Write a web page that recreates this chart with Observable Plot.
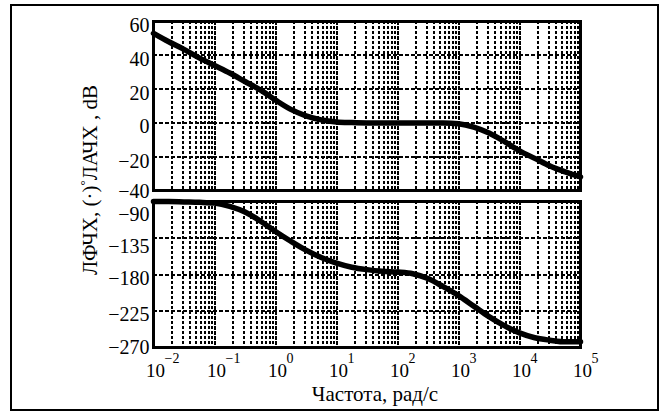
<!DOCTYPE html>
<html>
<head>
<meta charset="utf-8">
<script src="https://cdn.jsdelivr.net/npm/d3@7"></script>
<script src="https://cdn.jsdelivr.net/npm/@observablehq/plot@0.6"></script>
<style>
  html, body { margin: 0; padding: 0; background: #fff; }
  #wrap { position: relative; width: 666px; height: 413px; overflow: hidden; font-family: "Liberation Serif", "Times New Roman", serif; }
  #border { position: absolute; left: 10px; top: 4px; width: 645px; height: 403px; border: 2px solid #000; }
  .plotbox { position: absolute; left: 0; }
  #ylabel { position: absolute; left: 90px; top: 180px; transform: translate(-50%, -50%) rotate(-90deg); white-space: nowrap; font-family: "Liberation Serif", "Times New Roman", serif; font-size: 21px; line-height: 1; color: #000; }
  #ylabel sup { font-size: 13px; vertical-align: 0; position: relative; top: -8px; }
</style>
</head>
<body>
<div id="wrap">
  <div id="border"></div>
  <div id="top" class="plotbox" style="top:0px"></div>
  <div id="bottom" class="plotbox" style="top:195px"></div>
  <div id="ylabel">ЛФЧХ, (·)<sup>°</sup>ЛАЧХ , dB</div>
</div>
<script>
// Frequency points, rad/s
const freq = [0.01, 0.0178, 0.0316, 0.0562, 0.1, 0.178, 0.316, 0.562,
              1, 1.78, 3.16, 5.62, 10, 17.8, 31.6, 56.2,
              100, 178, 316, 562, 1000, 1780, 3160, 5620,
              10000, 17800, 31600, 56200, 100000];
// Magnitude (ЛАЧХ), dB
const magDB = [53, 48, 43.5, 38.5, 34, 29.5, 24.5, 19.5,
               13.5, 8, 4.2, 1.8, 0.6, 0.2, 0, 0,
               0, 0, 0, 0, -0.5, -2.5, -6, -11,
               -16.5, -21, -25.5, -29, -32];
// Phase (ЛФЧХ), degrees
const phaseDeg = [-90, -90, -90.5, -91, -92, -96, -103, -114,
                  -127, -139, -150, -159, -166, -171, -174, -176,
                  -177, -179, -185, -195, -206, -219, -232, -243,
                  -252, -258, -261, -263, -263];

const decades = [-2, -1, 0, 1, 2, 3, 4, 5];
const minorMultipliers = [2, 3, 4, 5, 6, 7, 8, 9];
const magTicks = [60, 40, 20, 0, -20, -40];
const phaseTicks = [-90, -135, -180, -225, -270];
const xLabel = "Частота, рад/с";

const decadeValues = decades.map(d => Math.pow(10, d));
const minorValues = decades.slice(0, -1).flatMap(d => minorMultipliers.map(m => m * Math.pow(10, d)));

const magData = freq.map((f, i) => ({f, v: magDB[i]}));
const phaseData = freq.map((f, i) => ({f, v: phaseDeg[i]}));

const font = '"Liberation Serif", "Times New Roman", serif';
const minus = v => v < 0 ? "\u2212" + (-v) : String(v);

const xScale = {type: "log", domain: [0.01, 100000]};
const W = 666, ML = 153, MR = 86;

function gridMarks() {
  return [
    Plot.ruleX(minorValues, {x: d => d, stroke: "#000", strokeWidth: 2, strokeDasharray: "3,2", shapeRendering: "crispEdges"}),
    Plot.ruleX(decadeValues, {x: d => d, stroke: "#000", strokeWidth: 2, strokeDasharray: "4,1", shapeRendering: "crispEdges"})
  ];
}

function yLabels(ticks, dy) {
  return Plot.text(ticks, {y: d => d, text: minus, frameAnchor: "left", textAnchor: "end", dx: -4, dy, fontSize: 20, fontFamily: font, fill: "#000"});
}

const magShift = {"60": 4, "40": 4, "20": 4, "0": 4, "-20": 5, "-40": 1};

const topPlot = Plot.plot({
  width: W, height: 200,
  marginLeft: ML, marginRight: MR, marginTop: 21, marginBottom: 10,
  x: {...xScale, axis: null},
  y: {domain: [-40, 60], axis: null},
  style: {background: "transparent", fontFamily: font, overflow: "visible", color: "#000"},
  marks: [
    ...gridMarks(),
    Plot.gridY(magTicks, {stroke: "#000", strokeOpacity: 1, strokeWidth: 2, strokeDasharray: "4,2", shapeRendering: "crispEdges"}),
    Plot.line(magData, {x: "f", y: "v", stroke: "#000", strokeWidth: 5.5, curve: "monotone-x"}),
    Plot.frame({stroke: "#000", strokeWidth: 3}),
    ...magTicks.map(t => yLabels([t], magShift[String(t)]))
  ]
});

const phaseShift = {"-90": 13, "-135": 9, "-180": 4, "-225": 4, "-270": 0};

const bottomPlot = Plot.plot({
  width: W, height: 218,
  marginLeft: ML, marginRight: MR, marginTop: 6, marginBottom: 66,
  x: {...xScale, axis: null},
  y: {domain: [-270, -90], axis: null},
  style: {background: "transparent", fontFamily: font, overflow: "visible", color: "#000"},
  marks: [
    ...gridMarks(),
    Plot.gridY(phaseTicks, {stroke: "#000", strokeOpacity: 1, strokeWidth: 2, strokeDasharray: "4,2", shapeRendering: "crispEdges"}),
    Plot.line(phaseData, {x: "f", y: "v", stroke: "#000", strokeWidth: 5.5, curve: "monotone-x"}),
    Plot.frame({stroke: "#000", strokeWidth: 3}),
    ...phaseTicks.map(t => yLabels([t], phaseShift[String(t)])),
    Plot.text(decades, {x: d => Math.pow(10, d), text: () => "10", frameAnchor: "bottom", lineAnchor: "bottom", dy: 29, dx: 2, fontSize: 19, fontFamily: font, fill: "#000"}),
    Plot.text(decades, {x: d => Math.pow(10, d), text: d => minus(d), frameAnchor: "bottom", lineAnchor: "bottom", textAnchor: "start", dy: 15, dx: 11, fontSize: 14, fontFamily: font, fill: "#000"}),
    Plot.text([xLabel], {text: d => d, frameAnchor: "bottom", lineAnchor: "bottom", dy: 53, dx: 8, fontSize: 21, fontFamily: font, fill: "#000"})
  ]
});

document.getElementById("top").appendChild(topPlot);
document.getElementById("bottom").appendChild(bottomPlot);
</script>
</body>
</html>
